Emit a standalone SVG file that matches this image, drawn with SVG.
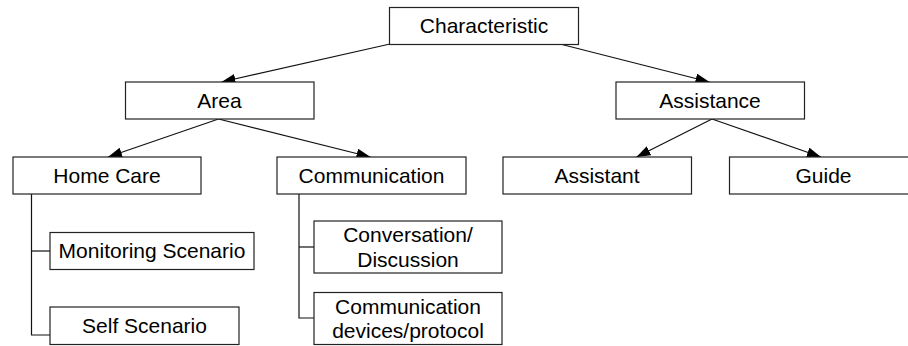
<svg xmlns="http://www.w3.org/2000/svg" width="908" height="346" viewBox="0 0 908 346">
<style>
.box{fill:#fff;stroke:#222;stroke-width:1.2}
.t{font-family:"Liberation Sans",Arial,sans-serif;font-size:21px;fill:#000;text-anchor:middle}
.ln{stroke:#111;stroke-width:1.2;fill:none}
</style>
<defs>
<marker id="ah" markerUnits="userSpaceOnUse" markerWidth="14" markerHeight="10" refX="14" refY="5" orient="auto">
<path d="M0,0 L14,5 L0,10 z" fill="#000"/>
</marker>
</defs>
<rect width="908" height="346" fill="#fff"/>
<g id="connectors">
<line class="ln" x1="390" y1="44" x2="221.5" y2="82" marker-end="url(#ah)"/>
<line class="ln" x1="560" y1="44" x2="709.5" y2="82" marker-end="url(#ah)"/>
<line class="ln" x1="218.5" y1="119" x2="108" y2="157" marker-end="url(#ah)"/>
<line class="ln" x1="218.5" y1="119" x2="370.5" y2="157" marker-end="url(#ah)"/>
<line class="ln" x1="712" y1="119" x2="636.5" y2="157" marker-end="url(#ah)"/>
<line class="ln" x1="712" y1="119" x2="821" y2="157" marker-end="url(#ah)"/>
<polyline class="ln" points="31.5,194 31.5,335 50,335"/>
<line class="ln" x1="31.5" y1="251" x2="50" y2="251"/>
<polyline class="ln" points="299,194 299,318 314,318"/>
<line class="ln" x1="299" y1="247" x2="314" y2="247"/>
</g>
<g id="characteristic"><rect class="box" x="389.5" y="7.5" width="189" height="37"/><text class="t" x="484" y="33">Characteristic</text></g>
<g id="area"><rect class="box" x="125.5" y="82" width="188.5" height="37"/><text class="t" x="219.5" y="107.5">Area</text></g>
<g id="assistance"><rect class="box" x="616" y="82" width="188.5" height="37"/><text class="t" x="710" y="107.5">Assistance</text></g>
<g id="homecare"><rect class="box" x="13" y="157" width="188" height="37"/><text class="t" x="107" y="182.5">Home Care</text></g>
<g id="communication"><rect class="box" x="277" y="157" width="189" height="37"/><text class="t" x="371.5" y="182.5">Communication</text></g>
<g id="assistant"><rect class="box" x="503" y="157" width="188.5" height="37"/><text class="t" x="597" y="182.5">Assistant</text></g>
<g id="guide"><rect class="box" x="729.5" y="157" width="188" height="37"/><text class="t" x="823.5" y="182.5">Guide</text></g>
<g id="monitoring"><rect class="box" x="50" y="232.5" width="204" height="37"/><text class="t" x="152" y="258">Monitoring Scenario</text></g>
<g id="self"><rect class="box" x="50" y="307" width="189" height="37.5"/><text class="t" x="144.5" y="333">Self Scenario</text></g>
<g id="conversation"><rect class="box" x="314" y="221" width="188" height="52"/><text class="t" x="408" y="242">Conversation/</text><text class="t" x="408" y="266.5">Discussion</text></g>
<g id="devices"><rect class="box" x="314" y="292.5" width="188" height="52"/><text class="t" x="408" y="313.5">Communication</text><text class="t" x="408" y="338">devices/protocol</text></g>
</svg>
